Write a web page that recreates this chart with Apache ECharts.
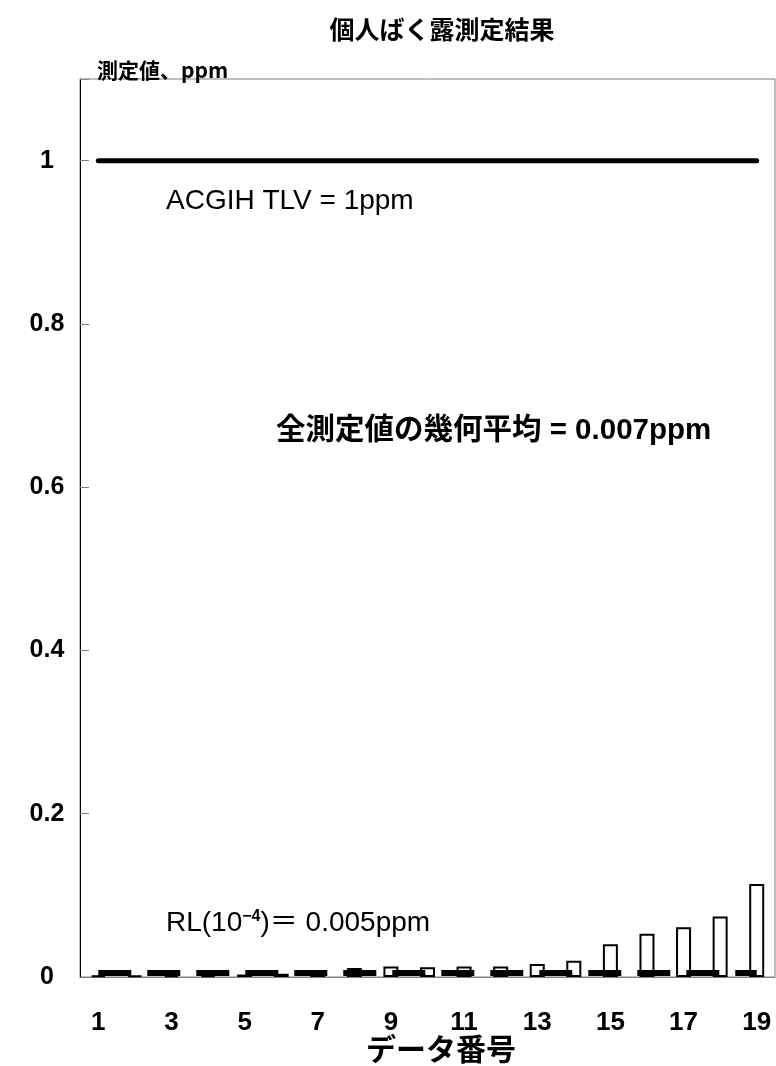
<!DOCTYPE html>
<html>
<head>
<meta charset="utf-8">
<script src="https://cdn.jsdelivr.net/npm/echarts@6/dist/echarts.min.js"></script>
<style>
  html, body { margin: 0; padding: 0; background: #fff; }
  #chart { width: 776px; height: 1066px; }
</style>
</head>
<body>
<div id="chart"></div>
<script>
// Data numbers 1..19
const categories = ['1','2','3','4','5','6','7','8','9','10','11','12','13','14','15','16','17','18','19'];
// Personal exposure results, ppm
const measured = [0.002, 0.002, 0.002, 0.002, 0.003, 0.004, 0.004, 0.011, 0.013, 0.012,
                  0.013, 0.013, 0.016, 0.020, 0.040, 0.053, 0.061, 0.074, 0.114];
// Reference levels, ppm
const tlvValue = 1;       // ACGIH TLV
const rlValue = 0.005;    // RL(10^-4)
const geoMean = 0.007;    // geometric mean of all measurements
const yTicks = [0, 0.2, 0.4, 0.6, 0.8, 1];

const NUM = '"Liberation Sans Narrow", "Liberation Sans", "Noto Sans CJK JP", sans-serif';
const TXT = '"Liberation Sans", "Noto Sans CJK JP", sans-serif';
const JP = '"Noto Sans CJK JP", sans-serif';

const chart = echarts.init(document.getElementById('chart'));
chart.setOption({
  animation: false,
  backgroundColor: '#fff',
  title: {
    text: '個人ばく露測定結果',
    left: 437, top: 12, textAlign: 'center',
    textStyle: { fontFamily: JP, fontWeight: 'bold', fontSize: 25, color: '#000' }
  },
  grid: {
    left: 80, right: 1, top: 79, bottom: 89,
    outerBoundsMode: 'none',
    containLabel: false,
    show: true, borderColor: '#808080', borderWidth: 1, backgroundColor: '#fff'
  },
  xAxis: {
    type: 'category',
    data: categories,
    boundaryGap: true,
    axisLine: { lineStyle: { color: '#808080', width: 1 } },
    axisTick: { show: false },
    axisLabel: {
      interval: 1, margin: 33,
      fontFamily: NUM, fontWeight: 'bold', fontSize: 26, color: '#000'
    },
    name: 'データ番号',
    nameLocation: 'middle',
    nameGap: 57,
    nameMoveOverlap: false,
    nameTextStyle: {
      fontFamily: JP, fontWeight: 'bold', fontSize: 30, color: '#000',
      verticalAlign: 'top', padding: [0, 0, 0, 27]
    }
  },
  yAxis: {
    type: 'value',
    min: 0, max: 1.1, interval: 0.2,
    splitLine: { show: false },
    axisLine: { show: true, lineStyle: { color: '#000', width: 1 } },
    axisTick: { show: true, inside: true, length: 9, lineStyle: { color: '#808080' } },
    axisLabel: {
      align: 'center', margin: 33,
      fontFamily: NUM, fontWeight: 'bold', fontSize: 25, color: '#000',
      formatter: v => (yTicks.some(t => Math.abs(t - v) < 1e-9) ? String(+v.toFixed(1)) : '')
    },
    name: '測定値、ppm',
    nameLocation: 'end',
    nameGap: -2,
    nameMoveOverlap: false,
    nameTextStyle: {
      fontFamily: JP, fontWeight: 'bold', fontSize: 21, color: '#000',
      align: 'left', verticalAlign: 'bottom', padding: [0, 0, 0, 17]
    }
  },
  series: [
    {
      name: '測定値',
      type: 'bar',
      data: measured,
      barWidth: 15,
      itemStyle: { color: '#fff', borderColor: '#000', borderWidth: 2 },
      z: 2
    },
    {
      name: 'ACGIH TLV',
      type: 'line',
      data: categories.map(() => tlvValue),
      symbol: 'none',
      lineStyle: { color: '#000', width: 5, cap: 'round' },
      z: 3
    },
    {
      name: 'RL',
      type: 'line',
      data: categories.map(() => rlValue),
      symbol: 'none',
      lineStyle: { color: '#000', width: 6, type: [33, 16], cap: 'butt' },
      z: 4
    }
  ],
  graphic: [
    {
      type: 'text', left: 166, top: 187,
      style: { text: 'ACGIH TLV = ' + tlvValue + 'ppm', font: '28px ' + TXT, fill: '#000' }
    },
    {
      type: 'text', left: 276, top: 416,
      style: { text: '全測定値の幾何平均 = ' + geoMean.toFixed(3) + 'ppm', font: 'bold 29.5px ' + TXT, fill: '#000' }
    },
    {
      type: 'text', left: 166, top: 909,
      style: {
        text: '{a|RL(10}{s|−4}{a|)＝ ' + rlValue.toFixed(3) + 'ppm}',
        rich: {
          a: { fontFamily: TXT, fontSize: 28, fill: '#000', verticalAlign: 'bottom' },
          s: { fontFamily: TXT, fontSize: 16, fontWeight: 'bold', fill: '#000', verticalAlign: 'top' }
        }
      }
    }
  ]
});
</script>
</body>
</html>
